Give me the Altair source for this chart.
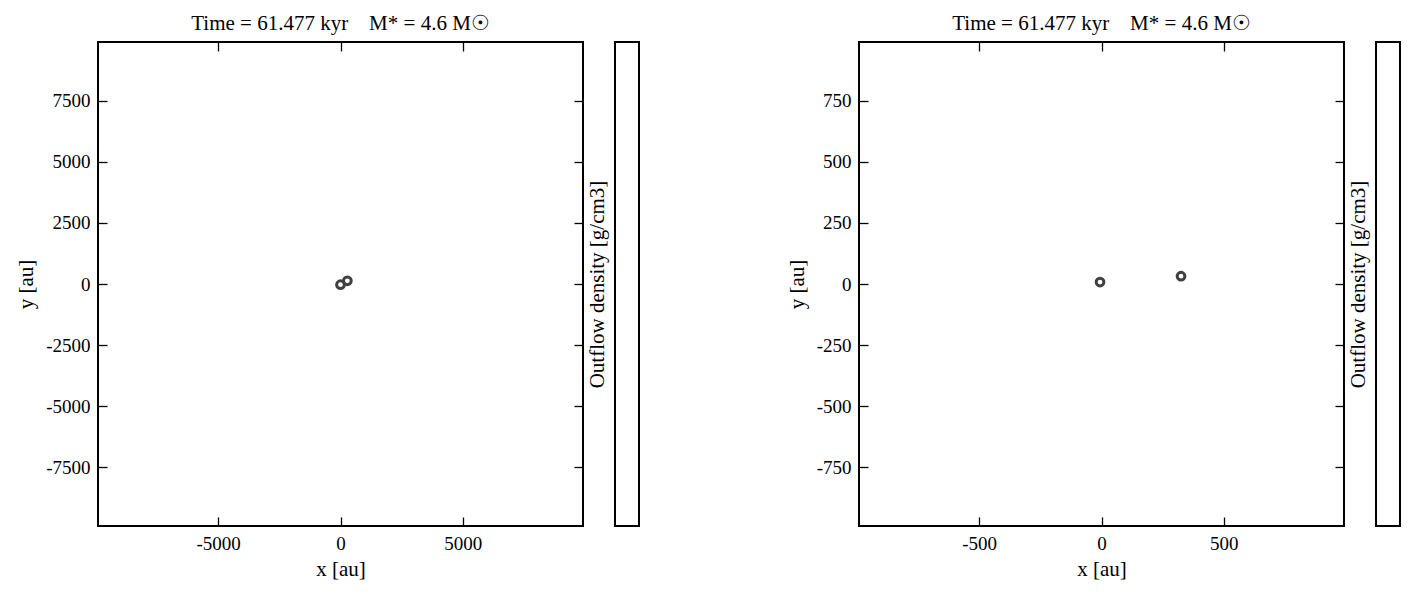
import altair as alt
import pandas as pd

# ---- data ----
left_star_x = [0, 280]
left_star_y = [-30, 130]
right_star_x = [-6, 325]
right_star_y = [8, 32]

left_xticks = [-5000, 0, 5000]
left_yticks = [-7500, -5000, -2500, 0, 2500, 5000, 7500]
right_xticks = [-500, 0, 500]
right_yticks = [-750, -500, -250, 0, 250, 500, 750]

left_extent = 9910
right_extent = 991

NB = "\u00a0"
title_text = "Time = 61.477 kyr" + NB * 4 + "M* = 4.6 M\u2609"
cbar_label = "Outflow density [g/cm3]"
x_title = "x [au]"
y_title = "y [au]"

FONT = "Liberation Serif"
FS = 19
TFS = 21
TICK = 9
PW, PH = 485, 484
label_expr = "datum.value < 0 ? '-' + format(-datum.value, 'd') : format(datum.value, 'd')"


def panel(xs, ys, xt, yt, ext):
    df = pd.DataFrame({"x": xs, "y": ys})
    sx = alt.Scale(domain=[-ext, ext], nice=False, zero=False)
    sy = alt.Scale(domain=[-ext, ext], nice=False, zero=False)
    base = alt.Chart(df)
    main = base.mark_point(
        shape="circle", filled=False, size=60, strokeWidth=3,
        color="#404040", opacity=1
    ).encode(
        x=alt.X("x:Q", scale=sx, axis=alt.Axis(
            orient="bottom", values=xt, title=x_title, offset=-TICK,
            tickSize=TICK, labelPadding=8, labelExpr=label_expr,
            domain=False, grid=False, titlePadding=5)),
        y=alt.Y("y:Q", scale=sy, axis=alt.Axis(
            orient="left", values=yt, title=y_title, offset=-TICK,
            tickSize=TICK, labelPadding=8, labelExpr=label_expr,
            domain=False, grid=False, titlePadding=9)),
    )
    mirror = base.mark_point(opacity=0).encode(
        x=alt.X("x:Q", scale=sx, axis=alt.Axis(
            orient="top", values=xt, title=None, labels=False,
            offset=-TICK, tickSize=TICK, domain=False, grid=False)),
        y=alt.Y("y:Q", scale=sy, axis=alt.Axis(
            orient="right", values=yt, title=None, labels=False,
            offset=-TICK, tickSize=TICK, domain=False, grid=False)),
    )
    return alt.layer(main, mirror).resolve_axis(
        x="independent", y="independent"
    ).properties(
        width=PW, height=PH,
        title=alt.TitleParams(title_text, font=FONT, fontSize=TFS,
                              fontWeight="normal", color="black",
                              anchor="middle", offset=7),
    )


def colorbar():
    df = pd.DataFrame({"v": [0]})
    return alt.Chart(df).mark_point(opacity=0).encode(
        y=alt.Y("v:Q", axis=alt.Axis(
            orient="left", title=cbar_label, labels=False, ticks=False,
            domain=False, grid=False, titlePadding=8)),
    ).properties(width=24, height=PH)


def spacer():
    df = pd.DataFrame({"v": [0]})
    return alt.Chart(df).mark_point(opacity=0).encode(
        x=alt.value(0), y=alt.value(0)
    ).properties(width=156, height=PH,
                 view=alt.ViewBackground(strokeOpacity=0))


chart = alt.hconcat(
    panel(left_star_x, left_star_y, left_xticks, left_yticks, left_extent),
    colorbar(),
    spacer(),
    panel(right_star_x, right_star_y, right_xticks, right_yticks, right_extent),
    colorbar(),
    spacing=32,
    bounds="flush",
).properties(
    padding={"left": 6, "top": 4, "right": 0, "bottom": 0}
).configure(
    background="white"
).configure_view(
    stroke="black", strokeWidth=2
).configure_axis(
    labelFont=FONT, titleFont=FONT, labelFontSize=FS, titleFontSize=TFS,
    titleFontWeight="normal", labelColor="black", titleColor="black",
    tickColor="black", tickWidth=1.3
)

chart.save("out.html", embed_options={"renderer": "svg", "actions": False})
